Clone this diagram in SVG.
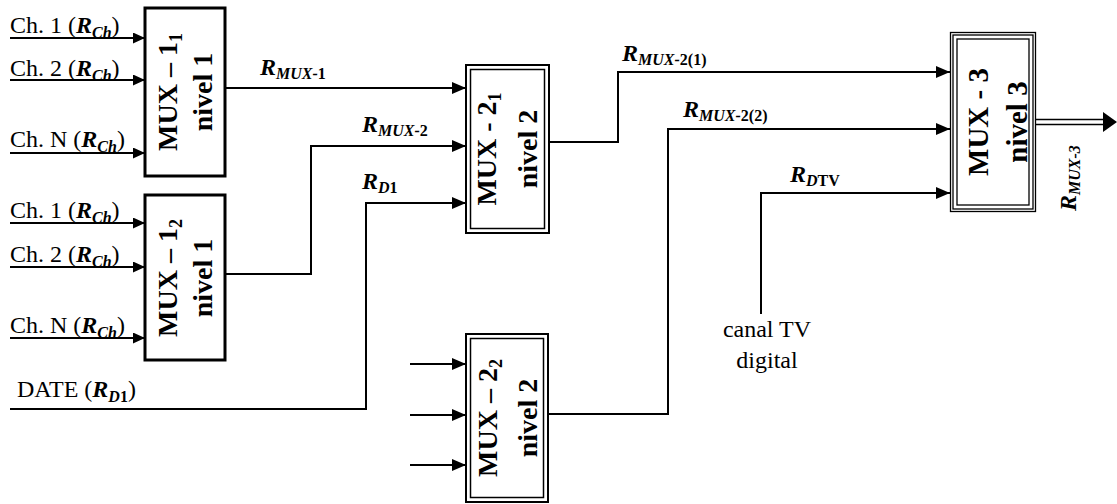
<svg xmlns="http://www.w3.org/2000/svg" width="1117" height="504" viewBox="0 0 1117 504">
<defs>
<marker id="ah" markerUnits="userSpaceOnUse" markerWidth="14" markerHeight="12" refX="14" refY="6" orient="auto"><path d="M0,0 L14,6 L0,12 z" fill="#000"/></marker>
<marker id="ahs" markerUnits="userSpaceOnUse" markerWidth="12" markerHeight="11" refX="12" refY="5.5" orient="auto"><path d="M0,0 L12,5.5 L0,11 z" fill="#000"/></marker>
<style>
.ln{fill:none;stroke:#000;stroke-width:2}
.lbl{font-family:"Liberation Serif",serif;font-size:24px;fill:#000}
.bi{font-weight:bold;font-style:italic}
.b{font-weight:bold;font-style:normal}
.sub{font-size:16px}
.box1{fill:#fff;stroke:#000;stroke-width:3}
.bo{fill:#fff;stroke:#000;stroke-width:2}
.bi2{fill:none;stroke:#000;stroke-width:1.5}
.bt{fill:none;stroke:#000;stroke-width:1.3}
.mt{font-family:"Liberation Serif",serif;font-size:28px;font-weight:bold;fill:#000}
.ms{font-size:18px}
</style>
</defs>
<g id="connectors">
<line class="ln" x1="10" y1="38" x2="145" y2="38" marker-end="url(#ahs)"/>
<line class="ln" x1="10" y1="80" x2="145" y2="80" marker-end="url(#ahs)"/>
<line class="ln" x1="10" y1="153" x2="145" y2="153" marker-end="url(#ahs)"/>
<line class="ln" x1="10" y1="223" x2="145" y2="223" marker-end="url(#ahs)"/>
<line class="ln" x1="10" y1="267" x2="145" y2="267" marker-end="url(#ahs)"/>
<line class="ln" x1="10" y1="338" x2="145" y2="338" marker-end="url(#ahs)"/>
<polyline class="ln" points="225,88 466,88" marker-end="url(#ah)"/>
<polyline class="ln" points="225,274 311,274 311,146 466,146" marker-end="url(#ah)"/>
<polyline class="ln" points="10,409 366,409 366,203 466,203" marker-end="url(#ah)"/>
<line class="ln" x1="410" y1="364" x2="466" y2="364" marker-end="url(#ah)"/>
<line class="ln" x1="410" y1="415" x2="466" y2="415" marker-end="url(#ah)"/>
<line class="ln" x1="410" y1="465" x2="466" y2="465" marker-end="url(#ah)"/>
<polyline class="ln" points="550,142 618,142 618,72 950,72" marker-end="url(#ah)"/>
<polyline class="ln" points="549,414 668,414 668,129 950,129" marker-end="url(#ah)"/>
<polyline class="ln" points="761,314 761,193 950,193" marker-end="url(#ah)"/>
<line x1="1036" y1="119.5" x2="1104" y2="119.5" stroke="#000" stroke-width="1.5"/>
<line x1="1036" y1="124.5" x2="1104" y2="124.5" stroke="#000" stroke-width="1.5"/>
<path d="M1103,112 L1117,122 L1103,132 z" fill="#000"/>
</g>
<g id="labels">
<text class="lbl" x="10" y="33">Ch. 1 (<tspan class="bi">R</tspan><tspan class="bi sub" dy="5">Ch</tspan><tspan dy="-5">)</tspan></text>
<text class="lbl" x="10" y="76">Ch. 2 (<tspan class="bi">R</tspan><tspan class="bi sub" dy="5">Ch</tspan><tspan dy="-5">)</tspan></text>
<text class="lbl" x="10" y="147">Ch. N (<tspan class="bi">R</tspan><tspan class="bi sub" dy="5">Ch</tspan><tspan dy="-5">)</tspan></text>
<text class="lbl" x="10" y="218">Ch. 1 (<tspan class="bi">R</tspan><tspan class="bi sub" dy="5">Ch</tspan><tspan dy="-5">)</tspan></text>
<text class="lbl" x="10" y="262">Ch. 2 (<tspan class="bi">R</tspan><tspan class="bi sub" dy="5">Ch</tspan><tspan dy="-5">)</tspan></text>
<text class="lbl" x="10" y="333">Ch. N (<tspan class="bi">R</tspan><tspan class="bi sub" dy="5">Ch</tspan><tspan dy="-5">)</tspan></text>
<text class="lbl" x="17" y="397">DATE (<tspan class="bi">R</tspan><tspan class="bi sub" dy="5">D</tspan><tspan class="b sub">1</tspan><tspan dy="-5">)</tspan></text>
<text class="lbl" x="260" y="75"><tspan class="bi">R</tspan><tspan class="bi sub" dy="4">MUX-</tspan><tspan class="b sub">1</tspan></text>
<text class="lbl" x="362" y="132"><tspan class="bi">R</tspan><tspan class="bi sub" dy="4">MUX-</tspan><tspan class="b sub">2</tspan></text>
<text class="lbl" x="362" y="189"><tspan class="bi">R</tspan><tspan class="bi sub" dy="4">D</tspan><tspan class="b sub">1</tspan></text>
<text class="lbl" x="622" y="61"><tspan class="bi">R</tspan><tspan class="bi sub" dy="4">MUX-</tspan><tspan class="b sub">2(1)</tspan></text>
<text class="lbl" x="683" y="117"><tspan class="bi">R</tspan><tspan class="bi sub" dy="4">MUX-</tspan><tspan class="b sub">2(2)</tspan></text>
<text class="lbl" x="790" y="182"><tspan class="bi">R</tspan><tspan class="bi sub" dy="4">D</tspan><tspan class="b sub">TV</tspan></text>
<text class="lbl" x="767" y="337" text-anchor="middle">canal TV</text>
<text class="lbl" x="767" y="368" text-anchor="middle">digital</text>
<text class="lbl" transform="translate(1076,211) rotate(-90)"><tspan class="bi">R</tspan><tspan class="bi sub" dy="4">MUX-3</tspan></text>
</g>
<g id="mux1_1">
<rect class="box1" x="145" y="8" width="80" height="168"/>
<text class="mt" transform="translate(177,92) rotate(-90)" text-anchor="middle">MUX – 1<tspan class="ms" dy="5">1</tspan></text>
<text class="mt" transform="translate(212,92) rotate(-90)" text-anchor="middle">nivel 1</text>
</g>
<g id="mux1_2">
<rect class="box1" x="145" y="195" width="80" height="165"/>
<text class="mt" transform="translate(177,278) rotate(-90)" text-anchor="middle">MUX – 1<tspan class="ms" dy="5">2</tspan></text>
<text class="mt" transform="translate(212,278) rotate(-90)" text-anchor="middle">nivel 1</text>
</g>
<g id="mux2_1">
<rect class="bo" x="466" y="65" width="83" height="168"/>
<rect class="bi2" x="470.5" y="69.5" width="74" height="159"/>
<text class="mt" transform="translate(496,149) rotate(-90)" text-anchor="middle">MUX - 2<tspan class="ms" dy="5">1</tspan></text>
<text class="mt" transform="translate(537,149) rotate(-90)" text-anchor="middle">nivel 2</text>
</g>
<g id="mux2_2">
<rect class="bo" x="466" y="334" width="82" height="168"/>
<rect class="bi2" x="470.5" y="338.5" width="73" height="159"/>
<text class="mt" transform="translate(497,418) rotate(-90)" text-anchor="middle">MUX – 2<tspan class="ms" dy="5">2</tspan></text>
<text class="mt" transform="translate(537,418) rotate(-90)" text-anchor="middle">nivel 2</text>
</g>
<g id="mux3">
<rect class="bt" x="950.5" y="32.5" width="85" height="179" fill="#fff"/>
<rect class="bt" x="953" y="35" width="80" height="174"/>
<rect class="bt" x="957" y="39" width="72" height="166"/>
<text class="mt" transform="translate(988,122) rotate(-90)" text-anchor="middle" style="font-size:29px">MUX - 3</text>
<text class="mt" transform="translate(1027,122) rotate(-90)" text-anchor="middle" style="font-size:29px">nivel 3</text>
</g>
</svg>
